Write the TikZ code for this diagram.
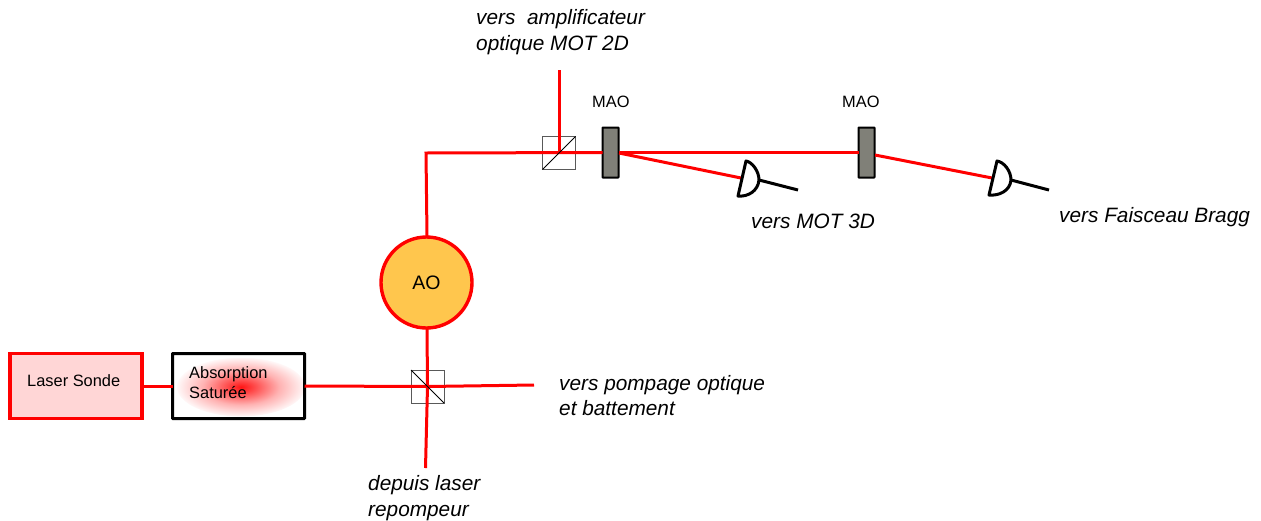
\documentclass[tikz,border=0pt]{standalone}
\usepackage{fontspec}
\setmainfont{Liberation Sans}
\definecolor{beam}{RGB}{255,0,0}
\definecolor{aofill}{RGB}{255,198,77}
\definecolor{maofill}{RGB}{128,128,120}
\definecolor{laserfill}{RGB}{255,214,214}
\pgfdeclareradialshading{absshade}{\pgfpoint{0bp}{0bp}}{color(0bp)=(red!92!white); color(5bp)=(red!72!white); color(15bp)=(red!30!white); color(26bp)=(white); color(50bp)=(white)}
\tikzset{
  beamline/.style={draw=beam,line width=3pt},
  blackline/.style={draw=black,line width=3pt},
  cube/.style={draw=black!65,line width=1pt,minimum size=33pt,inner sep=0pt,outer sep=0pt},
  diag/.style={draw=black,line width=0.9pt},
  mao/.style={draw=black,line width=2pt,fill=maofill,minimum width=16pt,minimum height=50pt,inner sep=0pt,outer sep=0pt,rounded corners=0.5pt},
  lab/.style={font=\fontsize{20.8}{25}\selectfont\itshape,align=left,anchor=west,inner sep=0pt},
  labwide/.style={lab,font=\fontsize{20.8}{26}\selectfont\itshape},
  small/.style={font=\fontsize{16.4}{20}\selectfont,align=left,anchor=west,inner sep=0pt},
}
\begin{document}
\begin{tikzpicture}[x=1pt,y=-1pt]
\useasboundingbox (0,0) rectangle (1261,520);
% nodes
\node[draw=beam,line width=3.4pt,fill=laserfill,minimum width=132pt,minimum height=65pt,inner sep=0pt,outer sep=0pt] (laser) at (76,386) {};
\node[small,anchor=west] (lasertxt) at (27,381) {Laser Sonde};
\node[draw=none,minimum width=132pt,minimum height=65pt,inner sep=0pt,outer sep=0pt] (abs) at (238.5,386) {};
\path[shading=absshade] (241,387) ellipse [x radius=64,y radius=29.5];
\draw[blackline,rounded corners=0.5pt] (abs.north west) rectangle (abs.south east);
\node[small] (abstxt) at (189,382.5) {Absorption\\Saturée};
\node[cube] (cubeA) at (427.5,386.5) {};
\node[cube] (cubeB) at (559,153) {};
\node[mao] (maoA) at (610.5,152.5) {};
\node[mao] (maoB) at (866.5,152.5) {};
\coordinate (ampli) at (559,70);
\coordinate (corner) at (426,153);
\coordinate (pompage) at (534,385);
\coordinate (repompeur) at (425.5,468);
\coordinate (detAin) at (741,178);
\coordinate (detBin) at (992,178);
\coordinate (detAout) at (798,190);
\coordinate (detBout) at (1049,190);
\coordinate (detAapex) at (759,180);
\coordinate (detBapex) at (1011,180);
\coordinate (detAtop) at (746,161);
\coordinate (detAbot) at (738,196);
\coordinate (detBtop) at (997,161);
\coordinate (detBbot) at (989,195);
% beams
\draw[beamline] (laser.east) -- (abs.west);
\draw[beamline] (abs.east) -- (cubeA.center) -- (pompage);
\draw[beamline] (repompeur) -- (cubeA.center) -- (427,328);
\draw[beamline] (427,236) -- (corner) -- (maoA.west);
\draw[beamline] (ampli) -- (cubeB.center);
\draw[beamline] (maoA.east) -- (maoB.west);
\draw[beamline] (619,153) -- (detAin);
\draw[beamline] (875,155) -- (detBin);
% cube diagonals
\draw[diag] (cubeA.north west) -- (cubeA.south east);
\draw[diag] (cubeB.south west) -- (cubeB.north east);
% AO
\node[circle,draw=beam,line width=3.4pt,fill=aofill,minimum size=91pt,inner sep=0pt,outer sep=0pt,font=\fontsize{19.5}{22}\selectfont] (ao) at (426.5,282.5) {AO};
% detectors
\draw[blackline,line join=round] (detAtop) -- (detAbot) .. controls (748,197) and (758,191) .. (detAapex) .. controls (759,171) and (752,162) .. cycle;
\draw[blackline] (detAapex) -- (detAout);
\draw[blackline,line join=round] (detBtop) -- (detBbot) .. controls (999,196) and (1010,191) .. (detBapex) .. controls (1011,171) and (1004,162) .. cycle;
\draw[blackline] (detBapex) -- (detBout);
% labels
\node[small] (maoAt) at (592,101.5) {MAO};
\node[small] (maoBt) at (842,101.5) {MAO};
\node[labwide] (l1) at (476,32) {vers~ amplificateur\\optique MOT 2D};
\node[lab] (l2) at (751,221) {vers MOT 3D};
\node[lab] (l3) at (1059,217) {vers Faisceau Bragg};
\node[lab] (l4) at (559,396) {vers pompage optique\\et battement};
\node[labwide] (l5) at (368,498) {depuis laser\\repompeur};
\end{tikzpicture}
\end{document}
